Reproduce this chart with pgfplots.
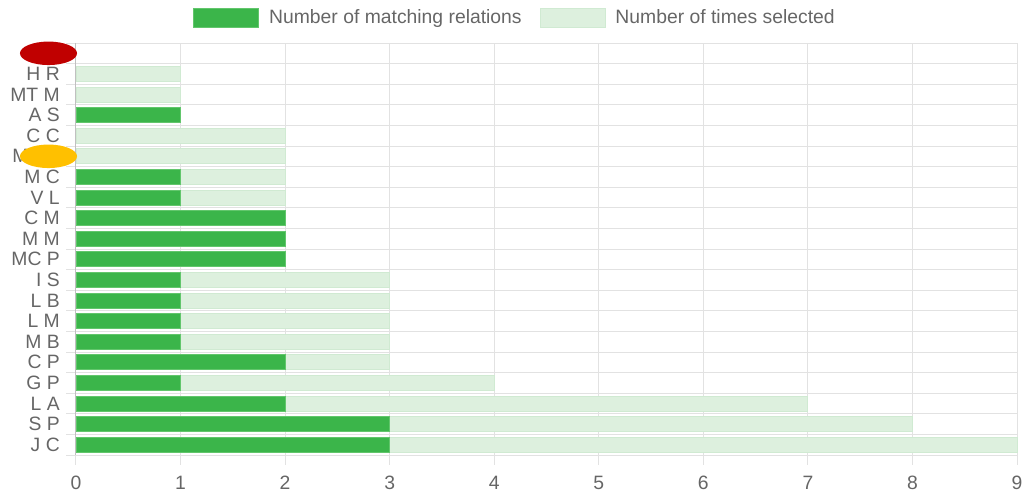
\documentclass[border=0pt]{standalone}
\usepackage{fontspec}
\setmainfont{Liberation Sans}
\usepackage{pgfplots}
\pgfplotsset{compat=1.18}

\definecolor{matchgreen}{RGB}{59,181,74}
\definecolor{matchedge}{RGB}{98,198,108}
\definecolor{selgreen}{RGB}{221,240,222}
\definecolor{seledge}{RGB}{208,234,210}
\definecolor{labelgray}{RGB}{102,102,102}
\definecolor{gridgray}{RGB}{226,226,226}
\definecolor{zerogray}{RGB}{192,192,192}
\definecolor{markred}{RGB}{192,0,0}
\definecolor{markyellow}{RGB}{255,192,0}
\newcommand{\chartfont}{\fontsize{14.5}{17}\selectfont}

\begin{document}
\begin{tikzpicture}
\useasboundingbox (-57pt,-31.5pt) rectangle (713.25pt,341.25pt);
\begin{axis}[
  scale only axis, width=705.75pt, height=309pt,
  xmin=0, xmax=9, ymin=-0.5, ymax=19.5,
  xbar, bar width=0.72, bar shift=0pt,
  clip=false,
  axis line style={draw=none},
  tick pos=left,
  xtick={0,...,9}, minor xtick={0,...,9},
  ytick={0,...,19},
  yticklabels={J C,S P,L A,G P,C P,M B,L M,L B,I S,MC P,M M,C M,V L,M C,MA S,C C,A S,MT M,H R,{}},
  minor ytick={-0.5,0.5,...,19.5},
  major tick length=0pt, minor tick length=7.5pt, tick align=outside,
  minor tick style={gridgray, line width=0.75pt},
  grid=minor,
  minor grid style={gridgray, line width=0.75pt},
  /pgf/number format/assume math mode=true,
  xticklabel style={font=\chartfont, text=labelgray, inner sep=0pt, anchor=center, yshift=-21pt},
  yticklabel style={font=\chartfont, text=labelgray, inner sep=0pt, anchor=east, xshift=-12pt},
  legend columns=2,
  legend style={draw=none, fill=none, font=\chartfont, text=labelgray,
    at={(0.4655,1.0607)}, anchor=center,
    nodes={inner sep=0pt},
    /tikz/every odd column/.append style={column sep=7.5pt},
    /tikz/every even column/.append style={column sep=13.5pt}},
]
% times selected (drawn first, behind)
\addplot[fill=selgreen, draw=seledge, line width=0.6pt, forget plot] coordinates {
  (9,0) (8,1) (7,2) (4,3) (3,4) (3,5) (3,6) (3,7) (3,8) (2,9)
  (2,10) (2,11) (2,12) (2,13) (2,14) (2,15) (1,16) (1,17) (1,18)};
% matching relations
\addplot[fill=matchgreen, draw=matchedge, line width=0.6pt, forget plot] coordinates {
  (3,0) (3,1) (2,2) (1,3) (2,4) (1,5) (1,6) (1,7) (1,8) (2,9)
  (2,10) (2,11) (1,12) (1,13) (1,16)};

\draw[zerogray, line width=0.75pt] (axis cs:0,-0.5) -- (axis cs:0,19.5);

\addlegendimage{legend image code/.code={\draw[fill=matchgreen, draw=matchedge, line width=0.6pt] (0pt,-7.1pt) rectangle (48.75pt,7.1pt);}}
\addlegendentry{Number of matching relations}
\addlegendimage{legend image code/.code={\draw[fill=selgreen, draw=seledge, line width=0.6pt] (0pt,-7.1pt) rectangle (48.75pt,7.1pt);}}
\addlegendentry{Number of times selected}

% highlight markers over two category labels
\fill[markred] (axis cs:-0.263,19) ellipse [x radius=21.4pt, y radius=8.8pt];
\fill[markyellow] (axis cs:-0.263,14) ellipse [x radius=21.4pt, y radius=8.8pt];
\end{axis}
\end{tikzpicture}
\end{document}
